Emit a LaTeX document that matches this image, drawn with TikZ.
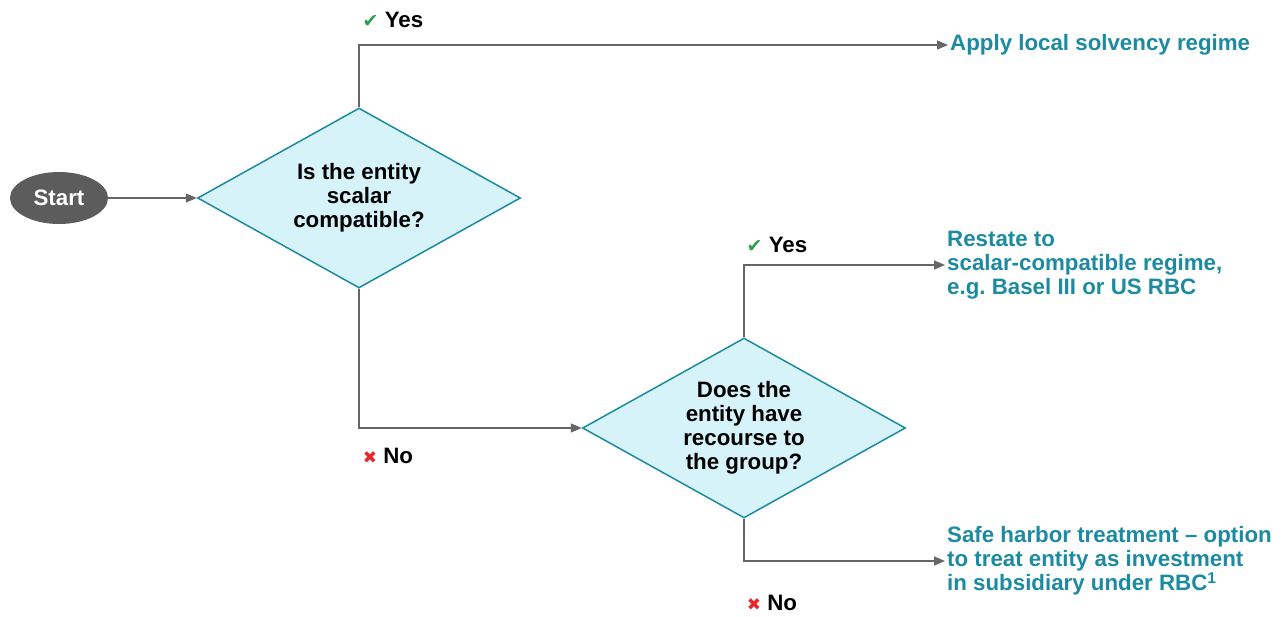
\documentclass[tikz,border=0pt]{standalone}
\usepackage{fontspec}
\setmainfont{Liberation Sans}
\newfontfamily\symfont{DejaVu Sans}
\usetikzlibrary{shapes.geometric,arrows.meta}
\definecolor{teal}{HTML}{1C8AA0}
\definecolor{cyanfill}{HTML}{D6F3F9}
\definecolor{flowgray}{HTML}{666666}
\definecolor{startgray}{HTML}{5C5C5C}
\definecolor{yesgreen}{HTML}{2E9E4F}
\definecolor{nored}{HTML}{E8262B}
\tikzset{
  bigfont/.style={font=\fontsize{22.3}{24}\selectfont\bfseries},
  decision/.style={diamond, aspect=1.79, draw=teal, fill=cyanfill, line width=1.5pt, inner sep=0pt,
    minimum width=323pt, minimum height=180pt, align=center, bigfont},
  outcome/.style={anchor=west, inner sep=2pt, align=left, text=teal, bigfont},
  flow/.style={draw=flowgray, line width=1.4pt, -{Triangle[length=11pt,width=9pt]}},
  branch/.style={bigfont, inner sep=0pt}
}
\newcommand{\yesmark}{{\symfont\fontsize{19}{19}\selectfont\color{yesgreen}✔}}
\newcommand{\nomark}{{\symfont\fontsize{17}{17}\selectfont\color{nored}✖}}
\begin{document}
\begin{tikzpicture}[x=1pt,y=-1pt]
  \useasboundingbox (0,0) rectangle (1288,616);

  % Start and the two questions
  \node[ellipse, fill=startgray, text=white, minimum width=98pt, minimum height=52pt,
    inner sep=0pt, bigfont] (start) at (59,198) {Start};
  \node[decision] (q1) at (359,198) {Is the entity\\scalar\\compatible?};
  \node[decision] (q2) at (744,428) {Does the\\entity have\\recourse to\\the group?};

  % Outcomes
  \node[outcome] (local) at (948,45) {Apply local solvency regime};
  \node[outcome] (restate) at (945,265) {Restate to\\scalar-compatible regime,\\e.g.\ Basel III or US RBC};
  \node[outcome] (safe) at (945,561) {Safe harbor treatment -- option\\to treat entity as investment\\in subsidiary under RBC\textsuperscript{1}};

  % Connectors
  \draw[flow] (start) -- (q1.west);
  \draw[flow] (q1.north) |- (local.west);
  \draw[flow] (q1.south) |- (q2.west);
  \draw[flow] (q2.north) |- (restate.west);
  \draw[flow] (q2.south) |- (safe.west);

  % Yes / No labels
  \node[branch] (yes1) at (393,20) {\yesmark\ Yes};
  \node[branch] (no1) at (388,456) {\nomark\ No};
  \node[branch] (yes2) at (777,245) {\yesmark\ Yes};
  \node[branch] (no2) at (772,603) {\nomark\ No};
\end{tikzpicture}
\end{document}
